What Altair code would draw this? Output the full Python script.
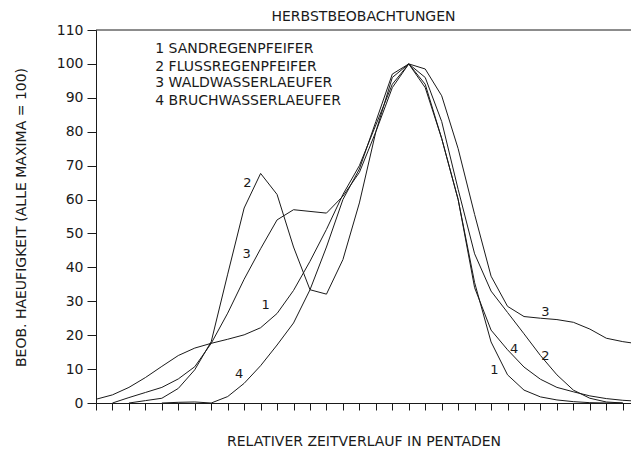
import altair as alt
import pandas as pd

# ---- data ----
sand_x = list(range(0, 33))
sand_y = [1.1, 2.4, 4.6, 7.5, 10.8, 14.0, 16.2, 17.6, 18.8, 20.1, 22.2, 26.4, 33.2, 41.8,
          51.2, 61.5, 70, 82, 94, 100, 93, 78, 60, 35.5, 18, 8.3, 3.8, 1.8, 0.9, 0.4, 0.1, 0, 0]

fluss_x = list(range(2, 33))
fluss_y = [0, 0.7, 1.4, 4.3, 9.8, 18.1, 38, 57.5, 67.7, 61.5, 46, 33.4, 32.1, 42.3, 59, 80,
           93, 100, 96, 83, 63, 44, 33, 26.7, 20.4, 14, 8.3, 3.8, 1.4, 0.3, 0]

wald_x = list(range(1, 34))
wald_y = [0, 1.6, 3.1, 4.6, 7.1, 10.7, 17.6, 26.5, 36.5, 45.5, 54, 57, 56.5, 56, 61, 68, 80,
          96, 100, 98.5, 90.6, 75, 55.6, 37.4, 28.5, 25.5, 25.0, 24.6, 23.8, 21.8, 19.1, 18.1, 17.4]

bruch_x = list(range(4, 34))
bruch_y = [0, 0.2, 0.3, 0, 1.9, 5.8, 11, 17.1, 23.6, 33.4, 46, 60, 69, 83, 97, 100, 94, 78,
           60, 34, 21.5, 15.7, 10.6, 7.0, 4.6, 3.3, 2.1, 1.3, 0.8, 0.5]

series_names = ["1", "2", "3", "4"]

# curve number labels
num_text = ["2", "3", "1", "4", "1", "4", "2", "3"]
num_x = [9.2, 9.15, 10.3, 8.7, 24.2, 25.4, 27.3, 27.3]
num_y = [65, 43.8, 29, 8.6, 9.8, 16, 13.9, 26.7]

# legend lines
legend_text = ["1 SANDREGENPFEIFER", "2 FLUSSREGENPFEIFER",
               "3 WALDWASSERLAEUFER", "4 BRUCHWASSERLAEUFER"]
legend_x = [3.6, 3.6, 3.6, 3.6]
legend_y = [104.4, 99.2, 94.3, 89.0]

x_ticks = list(range(0, 33))
y_ticks = list(range(0, 111, 10))
x_domain = [0, 32.5]
y_domain = [0, 110]

title_text = "HERBSTBEOBACHTUNGEN"
x_title = "RELATIVER ZEITVERLAUF IN PENTADEN"
y_title = "BEOB. HAEUFIGKEIT (ALLE MAXIMA = 100)"

FONT = "DejaVu Sans"
INK = "#1a1a1a"

# ---- build tables ----
rows = []
for name, xs, ys in zip(series_names,
                        [sand_x, fluss_x, wald_x, bruch_x],
                        [sand_y, fluss_y, wald_y, bruch_y]):
    for xv, yv in zip(xs, ys):
        rows.append({"serie": name, "x": xv, "y": yv})
lines_df = pd.DataFrame(rows)
nums_df = pd.DataFrame({"t": num_text, "x": num_x, "y": num_y})
leg_df = pd.DataFrame({"t": legend_text, "x": legend_x, "y": legend_y})
top_df = pd.DataFrame({"y": [y_domain[1]], "x0": [x_domain[0]], "x1": [x_domain[1]]})

xscale = alt.Scale(domain=x_domain, nice=False, zero=False)
yscale = alt.Scale(domain=y_domain, nice=False)

xaxis = alt.Axis(values=x_ticks, labels=False, tickSize=7, grid=False, title=x_title,
                 domainColor=INK, tickColor=INK, titleFont=FONT, titleFontSize=14,
                 titleFontWeight="normal", titleColor=INK, titlePadding=24)
yaxis = alt.Axis(values=y_ticks, tickSize=9, grid=False, title=y_title,
                 labelOverlap=False, labelFlush=False,
                 domainColor=INK, tickColor=INK, labelFont=FONT, labelFontSize=14,
                 labelColor=INK, labelPadding=4, titleFont=FONT, titleFontSize=14,
                 titleFontWeight="normal", titleColor=INK, titleX=-68, titleY=187)


def X(field):
    return alt.X(field, type="quantitative", scale=xscale, axis=xaxis, title=x_title)


def Y(field):
    return alt.Y(field, type="quantitative", scale=yscale, axis=yaxis, title=y_title)


lines = alt.Chart(lines_df).mark_line(color=INK, strokeWidth=1, clip=True).encode(
    x=X("x"), y=Y("y"), detail="serie:N",
)

top = alt.Chart(top_df).mark_rule(color=INK, strokeWidth=1).encode(
    x=X("x0"), x2="x1:Q", y=Y("y")
)

nums = alt.Chart(nums_df).mark_text(font=FONT, fontSize=13, color=INK).encode(
    x=X("x"), y=Y("y"), text="t:N"
)

leg = alt.Chart(leg_df).mark_text(font=FONT, fontSize=14, color=INK, align="left",
                                  baseline="middle").encode(
    x=X("x"), y=Y("y"), text="t:N"
)

chart = alt.layer(lines, top, nums, leg).properties(
    width=535, height=373,
    padding={"left": 96, "top": 30, "right": 0, "bottom": 50},
    autosize=alt.AutoSizeParams(type="none"),
    title=alt.TitleParams(title_text, font=FONT, fontSize=14, fontWeight="normal",
                          color=INK, anchor="middle", frame="group", offset=-15,
                          baseline="bottom"),
    background="white",
).configure_view(stroke=None)

chart.save("out.html", embed_options={"renderer": "svg", "actions": False})
